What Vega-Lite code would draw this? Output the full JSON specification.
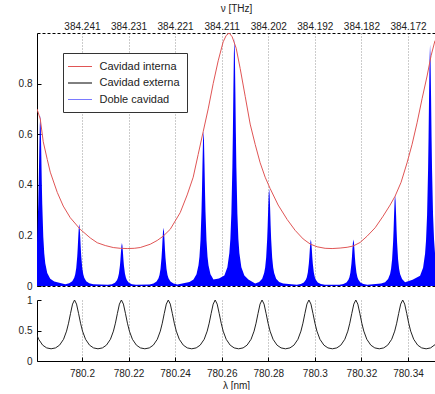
{
  "$schema": "https://vega.github.io/schema/vega-lite/v6.json",
  "padding": {"left": 18, "top": 3, "right": 0, "bottom": 0},
  "spacing": 4,
  "config": {
    "font": "Liberation Sans",
    "view": {"stroke": null},
    "axis": {"labelFontSize": 10, "titleFontSize": 10, "titleFontWeight": "normal", "labelColor": "#222", "titleColor": "#222", "domainColor": "#000", "tickColor": "#000", "gridColor": "#999", "gridDash": [1, 2], "labelOverlap": false}
  },
  "resolve": {"scale": {"color": "independent"}, "legend": {"color": "independent"}},
  "datasets": {
    "blue": [
      {"lam":780.1807,"T":0.17},{"lam":780.18081,"T":0.197},{"lam":780.18124,"T":0.323},{"lam":780.18146,"T":0.418},{"lam":780.18167,"T":0.53},{"lam":780.18189,"T":0.632},{"lam":780.1821,"T":0.675},{"lam":780.18231,"T":0.632},{"lam":780.18253,"T":0.53},{"lam":780.18274,"T":0.418},{"lam":780.18296,"T":0.323},{"lam":780.18339,"T":0.197},{"lam":780.18382,"T":0.128},{"lam":780.18425,"T":0.0898},{"lam":780.1851,"T":0.051},{"lam":780.18639,"T":0.0286},{"lam":780.18811,"T":0.0179},
      {"lam":780.19283,"T":0.0065},{"lam":780.19455,"T":0.0104},{"lam":780.19584,"T":0.0185},{"lam":780.19669,"T":0.0326},{"lam":780.19712,"T":0.0466},{"lam":780.19755,"T":0.0715},{"lam":780.19798,"T":0.1174},{"lam":780.1982,"T":0.1517},{"lam":780.19841,"T":0.1923},{"lam":780.19863,"T":0.2293},{"lam":780.19884,"T":0.245},{"lam":780.19905,"T":0.2293},{"lam":780.19927,"T":0.1923},{"lam":780.19948,"T":0.1517},{"lam":780.1997,"T":0.1174},{"lam":780.20013,"T":0.0715},{"lam":780.20056,"T":0.0466},{"lam":780.20099,"T":0.0326},{"lam":780.20184,"T":0.0185},{"lam":780.20313,"T":0.0104},{"lam":780.20485,"T":0.0065},
      {"lam":780.21116,"T":0.0045},{"lam":780.21288,"T":0.0072},{"lam":780.21417,"T":0.0128},{"lam":780.21502,"T":0.0226},{"lam":780.21545,"T":0.0323},{"lam":780.21588,"T":0.0496},{"lam":780.21631,"T":0.0814},{"lam":780.21653,"T":0.1052},{"lam":780.21674,"T":0.1335},{"lam":780.21696,"T":0.1591},{"lam":780.21717,"T":0.17},{"lam":780.21738,"T":0.1591},{"lam":780.2176,"T":0.1335},{"lam":780.21781,"T":0.1052},{"lam":780.21803,"T":0.0814},{"lam":780.21846,"T":0.0496},{"lam":780.21889,"T":0.0323},{"lam":780.21932,"T":0.0226},{"lam":780.22017,"T":0.0128},{"lam":780.22146,"T":0.0072},{"lam":780.22318,"T":0.0045},
      {"lam":780.22901,"T":0.0061},{"lam":780.23073,"T":0.0097},{"lam":780.23202,"T":0.0174},{"lam":780.23287,"T":0.0305},{"lam":780.2333,"T":0.0437},{"lam":780.23373,"T":0.0672},{"lam":780.23416,"T":0.1102},{"lam":780.23438,"T":0.1424},{"lam":780.23459,"T":0.1806},{"lam":780.23481,"T":0.2153},{"lam":780.23502,"T":0.23},{"lam":780.23523,"T":0.2153},{"lam":780.23545,"T":0.1806},{"lam":780.23566,"T":0.1424},{"lam":780.23588,"T":0.1102},{"lam":780.23631,"T":0.0672},{"lam":780.23674,"T":0.0437},{"lam":780.23717,"T":0.0305},{"lam":780.23802,"T":0.0174},{"lam":780.23931,"T":0.0097},{"lam":780.24103,"T":0.0061},
      {"lam":780.24618,"T":0.0163},{"lam":780.2479,"T":0.026},{"lam":780.24919,"T":0.0464},{"lam":780.25004,"T":0.0816},{"lam":780.25047,"T":0.1169},{"lam":780.2509,"T":0.1796},{"lam":780.25133,"T":0.2946},{"lam":780.25155,"T":0.3807},{"lam":780.25176,"T":0.4828},{"lam":780.25198,"T":0.5756},{"lam":780.25219,"T":0.615},{"lam":780.2524,"T":0.5756},{"lam":780.25262,"T":0.4828},{"lam":780.25283,"T":0.3807},{"lam":780.25305,"T":0.2946},{"lam":780.25348,"T":0.1796},{"lam":780.25391,"T":0.1169},{"lam":780.25434,"T":0.0816},{"lam":780.25519,"T":0.0464},{"lam":780.25648,"T":0.026},{"lam":780.25882,"T":0.03},
      {"lam":780.26116,"T":0.0415},{"lam":780.26245,"T":0.074},{"lam":780.2633,"T":0.13},{"lam":780.26373,"T":0.1862},{"lam":780.26416,"T":0.2862},{"lam":780.26459,"T":0.4694},{"lam":780.26481,"T":0.6066},{"lam":780.26502,"T":0.7693},{"lam":780.26524,"T":0.9173},{"lam":780.26545,"T":0.98},{"lam":780.26566,"T":0.9173},{"lam":780.26588,"T":0.7693},{"lam":780.26609,"T":0.6066},{"lam":780.26631,"T":0.4694},{"lam":780.26674,"T":0.2862},{"lam":780.26717,"T":0.1862},{"lam":780.2676,"T":0.13},{"lam":780.26845,"T":0.074},{"lam":780.26974,"T":0.0415},{"lam":780.27146,"T":0.026},
      {"lam":780.27438,"T":0.0102},{"lam":780.2761,"T":0.0163},{"lam":780.27739,"T":0.0291},{"lam":780.27824,"T":0.0511},{"lam":780.27867,"T":0.0732},{"lam":780.2791,"T":0.1124},{"lam":780.27953,"T":0.1844},{"lam":780.27975,"T":0.2383},{"lam":780.27996,"T":0.3022},{"lam":780.28018,"T":0.3604},{"lam":780.28039,"T":0.385},{"lam":780.2806,"T":0.3604},{"lam":780.28082,"T":0.3022},{"lam":780.28103,"T":0.2383},{"lam":780.28125,"T":0.1844},{"lam":780.28168,"T":0.1124},{"lam":780.28211,"T":0.0732},{"lam":780.28254,"T":0.0511},{"lam":780.28339,"T":0.0291},{"lam":780.28468,"T":0.0163},{"lam":780.2864,"T":0.0102},
      {"lam":780.29227,"T":0.0049},{"lam":780.29399,"T":0.0078},{"lam":780.29528,"T":0.0139},{"lam":780.29613,"T":0.0244},{"lam":780.29656,"T":0.035},{"lam":780.29699,"T":0.0537},{"lam":780.29742,"T":0.0881},{"lam":780.29764,"T":0.1139},{"lam":780.29785,"T":0.1444},{"lam":780.29807,"T":0.1722},{"lam":780.29828,"T":0.184},{"lam":780.29849,"T":0.1722},{"lam":780.29871,"T":0.1444},{"lam":780.29892,"T":0.1139},{"lam":780.29914,"T":0.0881},{"lam":780.29957,"T":0.0537},{"lam":780.3,"T":0.035},{"lam":780.30043,"T":0.0244},{"lam":780.30128,"T":0.0139},{"lam":780.30257,"T":0.0078},{"lam":780.30429,"T":0.0049},
      {"lam":780.31056,"T":0.0049},{"lam":780.31228,"T":0.0078},{"lam":780.31357,"T":0.0139},{"lam":780.31442,"T":0.0244},{"lam":780.31485,"T":0.035},{"lam":780.31528,"T":0.0537},{"lam":780.31571,"T":0.0881},{"lam":780.31593,"T":0.1139},{"lam":780.31614,"T":0.1444},{"lam":780.31636,"T":0.1722},{"lam":780.31657,"T":0.184},{"lam":780.31678,"T":0.1722},{"lam":780.317,"T":0.1444},{"lam":780.31721,"T":0.1139},{"lam":780.31743,"T":0.0881},{"lam":780.31786,"T":0.0537},{"lam":780.31829,"T":0.035},{"lam":780.31872,"T":0.0244},{"lam":780.31957,"T":0.0139},{"lam":780.32086,"T":0.0078},{"lam":780.32258,"T":0.0049},
      {"lam":780.32845,"T":0.0095},{"lam":780.33017,"T":0.0152},{"lam":780.33146,"T":0.0272},{"lam":780.33231,"T":0.0478},{"lam":780.33274,"T":0.0684},{"lam":780.33317,"T":0.1051},{"lam":780.3336,"T":0.1724},{"lam":780.33382,"T":0.2228},{"lam":780.33403,"T":0.2826},{"lam":780.33425,"T":0.337},{"lam":780.33446,"T":0.36},{"lam":780.33467,"T":0.337},{"lam":780.33489,"T":0.2826},{"lam":780.3351,"T":0.2228},{"lam":780.33532,"T":0.1724},{"lam":780.33575,"T":0.1051},{"lam":780.33618,"T":0.0684},{"lam":780.33661,"T":0.0478},{"lam":780.33746,"T":0.0272},{"lam":780.33875,"T":0.0152},{"lam":780.34197,"T":0.025},
      {"lam":780.34519,"T":0.0404},{"lam":780.34648,"T":0.0721},{"lam":780.34733,"T":0.127},{"lam":780.34776,"T":0.1815},{"lam":780.34819,"T":0.2789},{"lam":780.34862,"T":0.4574},{"lam":780.34884,"T":0.5911},{"lam":780.34905,"T":0.7497},{"lam":780.34927,"T":0.8939},{"lam":780.34948,"T":0.955},{"lam":780.34969,"T":0.8939},{"lam":780.34991,"T":0.7497},{"lam":780.35012,"T":0.5911},{"lam":780.35034,"T":0.4574},{"lam":780.35077,"T":0.2789},{"lam":780.3512,"T":0.1815},{"lam":780.3516,"T":0.13}
    ],
    "red": [
      {"serie":"Cavidad interna","lam":780.1807,"T":0.7},{"serie":"Cavidad interna","lam":780.1821,"T":0.66},{"serie":"Cavidad interna","lam":780.18339,"T":0.57},{"serie":"Cavidad interna","lam":780.18511,"T":0.5},{"serie":"Cavidad interna","lam":780.1864,"T":0.45},{"serie":"Cavidad interna","lam":780.1894,"T":0.37},{"serie":"Cavidad interna","lam":780.19197,"T":0.316},{"serie":"Cavidad interna","lam":780.19498,"T":0.27},{"serie":"Cavidad interna","lam":780.19927,"T":0.224},{"serie":"Cavidad interna","lam":780.20356,"T":0.19},{"serie":"Cavidad interna","lam":780.20657,"T":0.171},{"serie":"Cavidad interna","lam":780.21,"T":0.16},{"serie":"Cavidad interna","lam":780.21343,"T":0.152},{"serie":"Cavidad interna","lam":780.21644,"T":0.149},{"serie":"Cavidad interna","lam":780.21944,"T":0.148},{"serie":"Cavidad interna","lam":780.22245,"T":0.149},{"serie":"Cavidad interna","lam":780.22502,"T":0.152},{"serie":"Cavidad interna","lam":780.22931,"T":0.165},{"serie":"Cavidad interna","lam":780.23232,"T":0.18},{"serie":"Cavidad interna","lam":780.23489,"T":0.197},{"serie":"Cavidad interna","lam":780.2379,"T":0.224},{"serie":"Cavidad interna","lam":780.24219,"T":0.29},{"serie":"Cavidad interna","lam":780.24519,"T":0.36},{"serie":"Cavidad interna","lam":780.24777,"T":0.43},{"serie":"Cavidad interna","lam":780.24991,"T":0.52},{"serie":"Cavidad interna","lam":780.25206,"T":0.61},{"serie":"Cavidad interna","lam":780.25421,"T":0.7},{"serie":"Cavidad interna","lam":780.25635,"T":0.8},{"serie":"Cavidad interna","lam":780.2585,"T":0.89},{"serie":"Cavidad interna","lam":780.26064,"T":0.965},{"serie":"Cavidad interna","lam":780.26193,"T":0.99},{"serie":"Cavidad interna","lam":780.26322,"T":1.0},{"serie":"Cavidad interna","lam":780.26451,"T":0.985},{"serie":"Cavidad interna","lam":780.26622,"T":0.94},{"serie":"Cavidad interna","lam":780.26794,"T":0.86},{"serie":"Cavidad interna","lam":780.27009,"T":0.75},{"serie":"Cavidad interna","lam":780.27223,"T":0.64},{"serie":"Cavidad interna","lam":780.27438,"T":0.56},{"serie":"Cavidad interna","lam":780.27652,"T":0.487},{"serie":"Cavidad interna","lam":780.27867,"T":0.43},{"serie":"Cavidad interna","lam":780.28082,"T":0.385},{"serie":"Cavidad interna","lam":780.28425,"T":0.32},{"serie":"Cavidad interna","lam":780.28811,"T":0.263},{"serie":"Cavidad interna","lam":780.29154,"T":0.22},{"serie":"Cavidad interna","lam":780.29498,"T":0.186},{"serie":"Cavidad interna","lam":780.29798,"T":0.166},{"serie":"Cavidad interna","lam":780.30099,"T":0.155},{"serie":"Cavidad interna","lam":780.30442,"T":0.149},{"serie":"Cavidad interna","lam":780.30742,"T":0.148},{"serie":"Cavidad interna","lam":780.31086,"T":0.15},{"serie":"Cavidad interna","lam":780.31386,"T":0.153},{"serie":"Cavidad interna","lam":780.31644,"T":0.158},{"serie":"Cavidad interna","lam":780.31944,"T":0.172},{"serie":"Cavidad interna","lam":780.32245,"T":0.197},{"serie":"Cavidad interna","lam":780.32588,"T":0.23},{"serie":"Cavidad interna","lam":780.32931,"T":0.276},{"serie":"Cavidad interna","lam":780.33232,"T":0.32},{"serie":"Cavidad interna","lam":780.33446,"T":0.355},{"serie":"Cavidad interna","lam":780.33704,"T":0.41},{"serie":"Cavidad interna","lam":780.33961,"T":0.487},{"serie":"Cavidad interna","lam":780.34176,"T":0.56},{"serie":"Cavidad interna","lam":780.3439,"T":0.645},{"serie":"Cavidad interna","lam":780.34605,"T":0.74},{"serie":"Cavidad interna","lam":780.3482,"T":0.83},{"serie":"Cavidad interna","lam":780.34991,"T":0.91},{"serie":"Cavidad interna","lam":780.3516,"T":0.97}
    ],
    "black": [
      {"lam":780.1807,"T":0.4235},{"lam":780.18142,"T":0.3563},{"lam":780.18313,"T":0.2597},{"lam":780.18485,"T":0.2149},{"lam":780.18676,"T":0.2},
      {"lam":780.18867,"T":0.2149},{"lam":780.19038,"T":0.2597},{"lam":780.1921,"T":0.3563},{"lam":780.19339,"T":0.4895},{"lam":780.19424,"T":0.62},{"lam":780.1951,"T":0.781},{"lam":780.19596,"T":0.933},{"lam":780.19682,"T":1},{"lam":780.19768,"T":0.933},{"lam":780.19854,"T":0.781},{"lam":780.1994,"T":0.62},{"lam":780.20025,"T":0.4895},{"lam":780.20154,"T":0.3563},{"lam":780.20326,"T":0.2597},{"lam":780.20497,"T":0.2149},{"lam":780.20688,"T":0.2},
      {"lam":780.2088,"T":0.2149},{"lam":780.21051,"T":0.2597},{"lam":780.21223,"T":0.3563},{"lam":780.21352,"T":0.4895},{"lam":780.21437,"T":0.62},{"lam":780.21523,"T":0.781},{"lam":780.21609,"T":0.933},{"lam":780.21695,"T":1},{"lam":780.21781,"T":0.933},{"lam":780.21867,"T":0.781},{"lam":780.21953,"T":0.62},{"lam":780.22038,"T":0.4895},{"lam":780.22167,"T":0.3563},{"lam":780.22339,"T":0.2597},{"lam":780.2251,"T":0.2149},{"lam":780.22701,"T":0.2},
      {"lam":780.22893,"T":0.2149},{"lam":780.23064,"T":0.2597},{"lam":780.23236,"T":0.3563},{"lam":780.23365,"T":0.4895},{"lam":780.2345,"T":0.62},{"lam":780.23536,"T":0.781},{"lam":780.23622,"T":0.933},{"lam":780.23708,"T":1},{"lam":780.23794,"T":0.933},{"lam":780.2388,"T":0.781},{"lam":780.23966,"T":0.62},{"lam":780.24051,"T":0.4895},{"lam":780.2418,"T":0.3563},{"lam":780.24352,"T":0.2597},{"lam":780.24523,"T":0.2149},{"lam":780.24714,"T":0.2},
      {"lam":780.24906,"T":0.2149},{"lam":780.25077,"T":0.2597},{"lam":780.25249,"T":0.3563},{"lam":780.25378,"T":0.4895},{"lam":780.25463,"T":0.62},{"lam":780.25549,"T":0.781},{"lam":780.25635,"T":0.933},{"lam":780.25721,"T":1},{"lam":780.25807,"T":0.933},{"lam":780.25893,"T":0.781},{"lam":780.25979,"T":0.62},{"lam":780.26064,"T":0.4895},{"lam":780.26193,"T":0.3563},{"lam":780.26365,"T":0.2597},{"lam":780.26536,"T":0.2149},{"lam":780.26727,"T":0.2},
      {"lam":780.26919,"T":0.2149},{"lam":780.2709,"T":0.2597},{"lam":780.27262,"T":0.3563},{"lam":780.27391,"T":0.4895},{"lam":780.27476,"T":0.62},{"lam":780.27562,"T":0.781},{"lam":780.27648,"T":0.933},{"lam":780.27734,"T":1},{"lam":780.2782,"T":0.933},{"lam":780.27906,"T":0.781},{"lam":780.27992,"T":0.62},{"lam":780.28077,"T":0.4895},{"lam":780.28206,"T":0.3563},{"lam":780.28378,"T":0.2597},{"lam":780.28549,"T":0.2149},{"lam":780.2874,"T":0.2},
      {"lam":780.28932,"T":0.2149},{"lam":780.29103,"T":0.2597},{"lam":780.29275,"T":0.3563},{"lam":780.29404,"T":0.4895},{"lam":780.29489,"T":0.62},{"lam":780.29575,"T":0.781},{"lam":780.29661,"T":0.933},{"lam":780.29747,"T":1},{"lam":780.29833,"T":0.933},{"lam":780.29919,"T":0.781},{"lam":780.30005,"T":0.62},{"lam":780.3009,"T":0.4895},{"lam":780.30219,"T":0.3563},{"lam":780.30391,"T":0.2597},{"lam":780.30562,"T":0.2149},{"lam":780.30753,"T":0.2},
      {"lam":780.30945,"T":0.2149},{"lam":780.31116,"T":0.2597},{"lam":780.31288,"T":0.3563},{"lam":780.31417,"T":0.4895},{"lam":780.31502,"T":0.62},{"lam":780.31588,"T":0.781},{"lam":780.31674,"T":0.933},{"lam":780.3176,"T":1},{"lam":780.31846,"T":0.933},{"lam":780.31932,"T":0.781},{"lam":780.32018,"T":0.62},{"lam":780.32103,"T":0.4895},{"lam":780.32232,"T":0.3563},{"lam":780.32404,"T":0.2597},{"lam":780.32575,"T":0.2149},{"lam":780.32766,"T":0.2},
      {"lam":780.32958,"T":0.2149},{"lam":780.33129,"T":0.2597},{"lam":780.33301,"T":0.3563},{"lam":780.3343,"T":0.4895},{"lam":780.33515,"T":0.62},{"lam":780.33601,"T":0.781},{"lam":780.33687,"T":0.933},{"lam":780.33773,"T":1},{"lam":780.33859,"T":0.933},{"lam":780.33945,"T":0.781},{"lam":780.34031,"T":0.62},{"lam":780.34116,"T":0.4895},{"lam":780.34245,"T":0.3563},{"lam":780.34417,"T":0.2597},{"lam":780.34588,"T":0.2149},{"lam":780.34779,"T":0.2},
      {"lam":780.34971,"T":0.2149},{"lam":780.3516,"T":0.268}
    ]
  },
  "vconcat": [
    {
      "width": 398,
      "height": 253,
      "resolve": {"axis": {"x": "independent"}},
      "layer": [
        {
          "data": {"name": "blue"},
          "mark": {"type": "area", "color": "#0000ff", "clip": true, "interpolate": "linear"},
          "encoding": {
            "x": {"field": "lam", "type": "quantitative", "scale": {"domain": [780.1807, 780.3516], "nice": false, "zero": false},
                  "axis": {"orient": "bottom", "values": [780.2, 780.22, 780.24, 780.26, 780.28, 780.3, 780.32, 780.34], "labels": false, "ticks": false, "title": null, "grid": true, "domainDash": [3, 2]}},
            "y": {"field": "T", "type": "quantitative", "scale": {"domain": [0, 1], "nice": false},
                  "axis": {"orient": "left", "values": [0, 0.2, 0.4, 0.6, 0.8], "format": "~g", "title": null, "grid": false, "tickSize": -4, "labelPadding": 9}}
          }
        },
        {
          "data": {"name": "red"},
          "mark": {"type": "line", "strokeWidth": 1, "clip": true},
          "encoding": {
            "x": {"field": "lam", "type": "quantitative", "scale": {"domain": [780.1807, 780.3516], "nice": false, "zero": false},
                  "axis": {"orient": "top", "values": [780.2, 780.22, 780.24, 780.26, 780.28, 780.3, 780.32, 780.34],
                           "labelExpr": "['384.241','384.231','384.221','384.211','384.202','384.192','384.182','384.172'][round((datum.value-780.2)/0.02)]",
                           "title": "ν [THz]", "titlePadding": 8, "grid": false, "ticks": false, "labelPadding": 2, "domainDash": [3, 2]}},
            "y": {"field": "T", "type": "quantitative", "scale": {"domain": [0, 1], "nice": false},
                  "axis": {"orient": "left", "values": [0, 0.2, 0.4, 0.6, 0.8], "format": "~g", "title": null, "grid": false, "tickSize": -4, "labelPadding": 9}},
            "color": {"field": "serie", "type": "nominal",
                      "scale": {"domain": ["Cavidad interna", "Cavidad externa", "Doble cavidad"], "range": ["#e05555", "#000000", "#7a7aff"]},
                      "legend": {"orient": "none", "legendX": 26, "legendY": 20, "title": null, "symbolType": "M-2,0H2", "symbolSize": 144, "symbolStrokeWidth": 1, "symbolOffset": 3.5,
                                 "labelFontSize": 11, "labelColor": "#222", "labelOffset": 13, "padding": 7, "rowPadding": 4.5, "strokeColor": "#333", "fillColor": "#ffffff"}}
          }
        }
      ]
    },
    {
      "width": 398,
      "height": 61,
      "layer": [
        {
          "data": {"name": "black"},
          "mark": {"type": "line", "color": "#222", "strokeWidth": 1, "clip": true},
          "encoding": {
            "x": {"field": "lam", "type": "quantitative", "scale": {"domain": [780.1807, 780.3516], "nice": false, "zero": false},
                  "axis": {"values": [780.2, 780.22, 780.24, 780.26, 780.28, 780.3, 780.32, 780.34], "format": "~f", "title": "λ [nm]", "titlePadding": 2, "grid": true, "tickSize": -4, "labelPadding": 11}},
            "y": {"field": "T", "type": "quantitative", "scale": {"domain": [0, 1], "nice": false},
                  "axis": {"values": [0, 0.5, 1], "format": "~g", "title": null, "grid": false, "tickSize": -4, "labelPadding": 9}}
          }
        },
        {
          "mark": {"type": "rule", "strokeDash": [3, 2], "color": "#000", "strokeWidth": 1},
          "encoding": {"y": {"datum": 1, "type": "quantitative", "scale": {"domain": [0, 1], "nice": false},
                             "axis": {"values": [0, 0.5, 1], "format": "~g", "title": null, "grid": false, "tickSize": -4, "labelPadding": 9}}}
        }
      ]
    }
  ]
}
